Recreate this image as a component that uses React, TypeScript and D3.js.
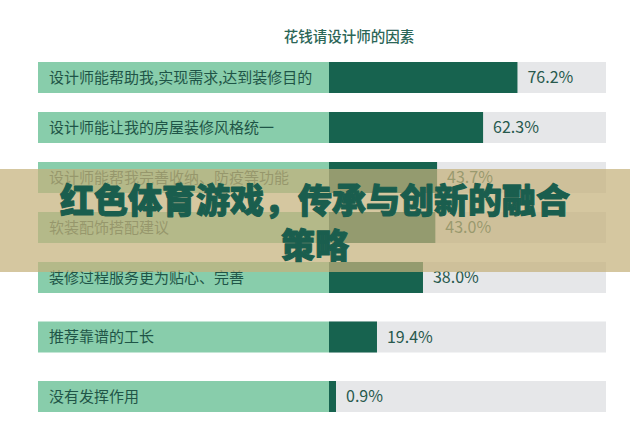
import * as d3 from 'd3';

const categories = [
  '设计师能帮助我,实现需求,达到装修目的',
  '设计师能让我的房屋装修风格统一',
  '设计师能帮我完善收纳、防疫等功能',
  '软装配饰搭配建议',
  '装修过程服务更为贴心、完善',
  '推荐靠谱的工长',
  '没有发挥作用',
];
const values = [76.2, 62.3, 43.7, 43.0, 38.0, 19.4, 0.9];
const chartTitle = '花钱请设计师的因素';
const bannerLines = ['红色体育游戏，传承与创新的融合', '策略'];

const W = 630;
const H = 444;
const FONT = '"Noto Sans CJK SC", "Noto Sans", sans-serif';

export default function App() {
  // rows are not evenly spaced in the source, so a piecewise scale on the index
  const y = d3.scaleLinear().domain([0, 4, 6]).range([62, 262, 381]);
  const barH = 31;
  const labelX0 = 38;
  const x = d3.scaleLinear().domain([0, 112]).range([329, 606]);

  return (
    <div style={{ position: 'absolute', left: 0, top: 0 }}>
      <svg width={W} height={H} style={{ display: 'block', background: '#fff' }} fontFamily={FONT}>
        <text x={349} y={42} textAnchor="middle" fontSize={14.5} fontWeight={500} fill="#2b6657">
          {chartTitle}
        </text>

        {categories.map((c, i) => {
          const top = y(i);
          const end = Math.max(x(values[i]), x(0) + 7);
          return (
            <g key={c}>
              <rect x={labelX0} y={top} width={x(0) - labelX0} height={barH} fill="#88cdab" />
              <rect x={x(0)} y={top} width={x.range()[1] - x(0)} height={barH} fill="#e6e7e9" />
              <rect x={x(0)} y={top} width={end - x(0)} height={barH} fill="#17634f" />
              <text x={labelX0 + 11} y={top + barH / 2} dy="0.36em" fontSize={15} fill="#1f5547">
                {c}
              </text>
              <text x={end + 10} y={top + barH / 2} dy="0.36em" fontSize={16} fill="#28594d">
                {values[i].toFixed(1)}%
              </text>
            </g>
          );
        })}

        {/* overlay banner */}
        <rect x={0} y={169} width={W} height={103} fill="rgb(197,178,124)" opacity={0.72} />
        {bannerLines.map((t, i) => (
          <text
            key={t}
            x={315}
            y={213 + i * 45}
            textAnchor="middle"
            fontSize={34}
            fontWeight={900}
            fill="#1a5e4e"
            stroke="#1a5e4e"
            strokeWidth={1.1}
            strokeLinejoin="round"
          >
            {t}
          </text>
        ))}
      </svg>
    </div>
  );
}
